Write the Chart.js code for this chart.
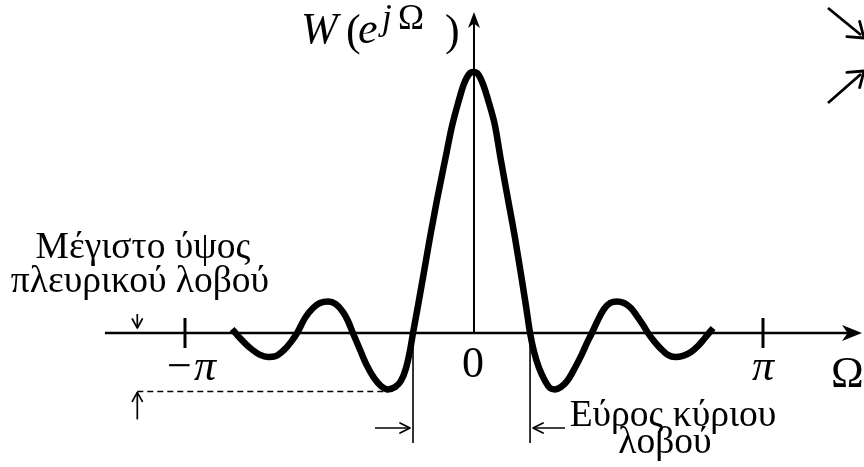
<!DOCTYPE html>
<html>
<head>
<meta charset="utf-8">
<script src="https://cdn.jsdelivr.net/npm/chart.js@4/dist/chart.umd.min.js"></script>
<style>
  html, body { margin: 0; padding: 0; background: #fff; }
  #wrap { width: 864px; height: 467px; }
</style>
</head>
<body>
<div id="wrap"><canvas id="c" width="864" height="467"></canvas></div>
<script>
// Window spectrum W(e^{jΩ}): frequency in units of π, amplitude normalised to the main-lobe peak
const omegaOverPi = [
  -0.837, -0.810, -0.775, -0.740, -0.713, -0.685, -0.657, -0.633, -0.612,
  -0.585, -0.557, -0.533, -0.505, -0.478, -0.453, -0.436, -0.419,
  -0.394, -0.370, -0.346, -0.322, -0.298, -0.273, -0.253, -0.235, -0.221, -0.211,
  -0.194, -0.173, -0.152, -0.128, -0.100, -0.076, -0.055, -0.035, -0.017, -0.003,
  0.014, 0.031, 0.052, 0.073, 0.093, 0.118, 0.142, 0.163, 0.180, 0.194,
  0.208, 0.225, 0.246, 0.263, 0.280, 0.301, 0.325, 0.349, 0.374, 0.391, 0.408,
  0.429, 0.450, 0.471, 0.495, 0.519, 0.543, 0.564, 0.585, 0.602,
  0.623, 0.647, 0.671, 0.696, 0.723, 0.751, 0.775, 0.799, 0.827
];
const amplitude = [
  0.015, -0.019, -0.057, -0.084, -0.092, -0.088, -0.065, -0.034, 0,
  0.057, 0.096, 0.115, 0.121, 0.111, 0.080, 0.046, 0,
  -0.065, -0.126, -0.172, -0.203, -0.216, -0.207, -0.184, -0.134, -0.065, 0,
  0.103, 0.234, 0.368, 0.510, 0.663, 0.793, 0.881, 0.954, 0.992, 1.0,
  0.992, 0.954, 0.881, 0.793, 0.663, 0.510, 0.364, 0.222, 0.103, 0,
  -0.073, -0.134, -0.184, -0.211, -0.216, -0.207, -0.180, -0.134, -0.080, -0.038, 0,
  0.050, 0.092, 0.115, 0.121, 0.115, 0.096, 0.065, 0.031, 0,
  -0.031, -0.061, -0.084, -0.092, -0.088, -0.073, -0.050, -0.019, 0.019
];

// Ω-axis tick marks and their labels
const tickValues = [-1, 0, 1];
const tickLabels = ['−π', '0', 'π'];

// Annotation texts
const sideLobeText = ['Μέγιστο ύψος', 'πλευρικού λοβού'];
const mainLobeText = ['Εύρος κύριου', 'λοβού'];
const xAxisName = 'Ω';

const points = omegaOverPi.map((v, i) => ({ x: v, y: amplitude[i] }));

// Main-lobe edges: nearest zero crossings on each side of the peak
const peakIdx = amplitude.indexOf(Math.max(...amplitude));
let li = peakIdx; while (li > 0 && amplitude[li] > 0) li--;
let ri = peakIdx; while (ri < amplitude.length - 1 && amplitude[ri] > 0) ri++;
const mainLobeEdges = [omegaOverPi[li], omegaOverPi[ri]];
const sideLobeMin = Math.min(...amplitude);

const SERIF = '"Liberation Serif", "Times New Roman", serif';

function seg(ctx, x1, y1, x2, y2, w) {
  ctx.lineWidth = w;
  ctx.beginPath(); ctx.moveTo(x1, y1); ctx.lineTo(x2, y2); ctx.stroke();
}
// filled stealth-style head
function stealth(ctx, tx, ty, ang, len, half) {
  ctx.save(); ctx.translate(tx, ty); ctx.rotate(ang);
  ctx.beginPath();
  ctx.moveTo(0, 0);
  ctx.lineTo(-len, -half);
  ctx.lineTo(-len * 0.72, 0);
  ctx.lineTo(-len, half);
  ctx.closePath(); ctx.fill();
  ctx.restore();
}
// open V head
function vhead(ctx, tx, ty, ang, len, half, w) {
  ctx.save(); ctx.translate(tx, ty); ctx.rotate(ang);
  ctx.lineWidth = w; ctx.lineCap = 'round'; ctx.lineJoin = 'round';
  ctx.beginPath();
  ctx.moveTo(-len, -half); ctx.lineTo(0, 0); ctx.lineTo(-len, half);
  ctx.stroke();
  ctx.restore();
}
function txt(ctx, s, x, y, font, align) {
  ctx.font = font; ctx.textAlign = align || 'left'; ctx.textBaseline = 'alphabetic';
  ctx.fillText(s, x, y);
}

const sketch = {
  id: 'sketch',
  beforeDatasetsDraw(chart) {
    const { ctx, scales: { x, y } } = chart;
    const X = v => x.getPixelForValue(v), Y = v => y.getPixelForValue(v);
    const y0 = Y(0), x0 = X(0);
    ctx.save();
    ctx.strokeStyle = '#000'; ctx.fillStyle = '#000'; ctx.lineCap = 'butt';

    // Ω axis with arrow
    const xEnd = chart.chartArea.right - 2;
    seg(ctx, X(-1.277), y0, xEnd - 12, y0, 2.4);
    stealth(ctx, xEnd, y0, 0, 20, 8);

    // vertical amplitude axis with arrow
    const yTop = Y(1.23);
    seg(ctx, x0, y0, x0, yTop + 10, 2);
    stealth(ctx, x0, yTop, -Math.PI / 2, 16, 6);

    // ±π ticks
    tickValues.forEach(v => { if (v !== 0) seg(ctx, X(v), y0 - 15, X(v), y0 + 15, 3); });

    // main-lobe width markers
    mainLobeEdges.forEach(v => seg(ctx, X(v), y0, X(v), y0 + 110, 1.6));
    const ay = y0 + 95;
    seg(ctx, X(mainLobeEdges[0]) - 38, ay, X(mainLobeEdges[0]) - 3, ay, 1.6);
    vhead(ctx, X(mainLobeEdges[0]) - 3, ay, 0, 10, 5, 1.7);
    seg(ctx, X(mainLobeEdges[1]) + 35, ay, X(mainLobeEdges[1]) + 3, ay, 1.6);
    vhead(ctx, X(mainLobeEdges[1]) + 3, ay, Math.PI, 10, 5, 1.7);

    // side-lobe height marker
    const ym = Y(sideLobeMin) + 2;
    const xm = X(-1.165);
    ctx.save(); ctx.setLineDash([6, 4]);
    seg(ctx, xm, ym, X(omegaOverPi[amplitude.indexOf(sideLobeMin)]), ym, 1.5);
    ctx.restore();
    seg(ctx, xm, ym + 28, xm, ym + 1, 1.7);
    vhead(ctx, xm, ym + 1, -Math.PI / 2, 9, 5, 1.7);
    seg(ctx, xm, y0 - 19, xm, y0 - 5, 1.7);
    vhead(ctx, xm, y0 - 5, Math.PI / 2, 9, 5, 1.7);

    // arrows entering from the right edge
    seg(ctx, 828, 8, 861, 35, 2.8);
    vhead(ctx, 864, 38, Math.atan2(30, 36), 14, 10, 2.8);
    seg(ctx, 828, 103, 861, 74, 2.8);
    vhead(ctx, 864, 71, Math.atan2(-30, 36), 14, 10, 2.8);
    ctx.restore();
  },
  afterDatasetsDraw(chart) {
    const { ctx, scales: { x, y } } = chart;
    const X = v => x.getPixelForValue(v), Y = v => y.getPixelForValue(v);
    const y0 = Y(0);
    ctx.save();
    ctx.fillStyle = '#000';
    const up = '44px ' + SERIF, it = 'italic 44px ' + SERIF;

    // axis title W(e^{jΩ})
    txt(ctx, 'W', 301, 43, it);
    txt(ctx, '(', 346, 45, up);
    txt(ctx, 'e', 358, 43, it);
    txt(ctx, 'j', 382, 29, 'italic 35px ' + SERIF);
    txt(ctx, 'Ω', 398, 29, '35px ' + SERIF);
    txt(ctx, ')', 445, 45, up);

    // tick labels
    tickValues.forEach((v, i) => {
      const lab = tickLabels[i];
      const cx = X(v);
      if (lab === '0') {
        txt(ctx, lab, cx - 1, y0 + 44, up, 'center');
      } else if (lab.startsWith('−')) {
        txt(ctx, '−', cx - 18, y0 + 47, up);
        txt(ctx, lab.slice(1), cx + 9, y0 + 47, it);
      } else {
        txt(ctx, lab, cx - 11, y0 + 47, it);
      }
    });
    txt(ctx, xAxisName, 831, y0 + 54, up);

    // annotation texts
    const tf = '37.5px ' + SERIF;
    txt(ctx, sideLobeText[0], 143, 258, tf, 'center');
    txt(ctx, sideLobeText[1], 140, 292, tf, 'center');
    txt(ctx, mainLobeText[0], 673, 426, tf, 'center');
    txt(ctx, mainLobeText[1], 665, 453, tf, 'center');
    ctx.restore();
  }
};

new Chart(document.getElementById('c'), {
  type: 'line',
  data: {
    datasets: [{
      data: points,
      borderColor: '#000',
      borderWidth: 6.5,
      borderCapStyle: 'butt',
      borderJoinStyle: 'round',
      cubicInterpolationMode: 'monotone',
      pointRadius: 0,
      fill: false
    }]
  },
  options: {
    responsive: false,
    animation: false,
    devicePixelRatio: 1,
    layout: { padding: 0 },
    plugins: { legend: { display: false }, tooltip: { enabled: false } },
    scales: {
      x: { type: 'linear', min: -1.6401, max: 1.3495, display: false },
      y: { type: 'linear', min: -0.5134, max: 1.2759, display: false }
    }
  },
  plugins: [sketch]
});
</script>
</body>
</html>
